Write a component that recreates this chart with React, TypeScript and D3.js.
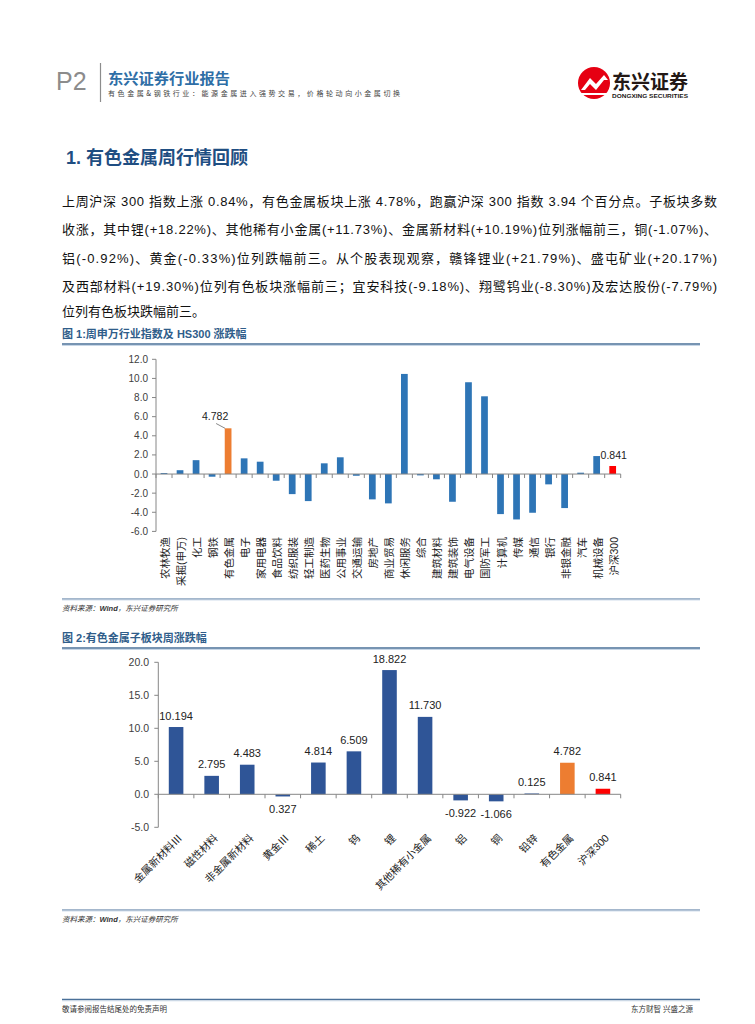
import React from "react";
import * as d3 from "d3";

// ---------- data ----------
const industries = [
  "农林牧渔", "采掘(申万)", "化工", "钢铁", "有色金属", "电子", "家用电器", "食品饮料",
  "纺织服装", "轻工制造", "医药生物", "公用事业", "交通运输", "房地产", "商业贸易",
  "休闲服务", "综合", "建筑材料", "建筑装饰", "电气设备", "国防军工", "计算机", "传媒",
  "通信", "银行", "非银金融", "汽车", "机械设备", "沪深300",
];
const industryChg = [
  0.1, 0.4, 1.45, -0.28, 4.782, 1.64, 1.29, -0.7, -2.1, -2.83, 1.12, 1.75, -0.18, -2.65,
  -3.07, 10.47, -0.14, -0.55, -2.9, 9.6, 8.13, -4.19, -4.75, -4.05, -1.08, -3.56, 0.14,
  1.88, 0.841,
];
const industryTicks = [12, 10, 8, 6, 4, 2, 0, -2, -4, -6];

const subSectors = [
  "金属新材料Ⅲ", "磁性材料", "非金属新材料", "黄金Ⅲ", "稀土", "钨", "锂",
  "其他稀有小金属", "铝", "铜", "铅锌", "有色金属", "沪深300",
];
const subChg = [10.194, 2.795, 4.483, -0.327, 4.814, 6.509, 18.822, 11.73, -0.922, -1.066, 0.125, 4.782, 0.841];
const subLabels = ["10.194", "2.795", "4.483", "0.327", "4.814", "6.509", "18.822", "11.730", "-0.922", "-1.066", "0.125", "4.782", "0.841"];
const subTicks = [20, 15, 10, 5, 0, -5];

const paragraph = [
  "上周沪深 300 指数上涨 0.84%，有色金属板块上涨 4.78%，跑赢沪深 300 指数 3.94 个百分点。子板块多数",
  "收涨，其中锂(+18.22%)、其他稀有小金属(+11.73%)、金属新材料(+10.19%)位列涨幅前三，铜(-1.07%)、",
  "铝(-0.92%)、黄金(-0.33%)位列跌幅前三。从个股表现观察，赣锋锂业(+21.79%)、盛屯矿业(+20.17%)",
  "及西部材料(+19.30%)位列有色板块涨幅前三；宜安科技(-9.18%)、翔鹭钨业(-8.30%)及宏达股份(-7.79%)",
  "位列有色板块跌幅前三。",
];

const CJK = "'Liberation Sans', 'Noto Sans CJK SC', sans-serif";
const AXIS = "#868686";
const TXT = "#404040";

function barColor1(name: string) {
  if (name === "有色金属") return "#ed7d31";
  if (name === "沪深300") return "#ff0000";
  return "#2e75b6";
}
function barColor2(name: string) {
  if (name === "有色金属") return "#ed7d31";
  if (name === "沪深300") return "#ff0000";
  return "#2f5597";
}

function Chart1() {
  const x0 = 156, x1 = 620.7;
  const y = d3.scaleLinear().domain([-6, 12]).range([531.4, 359.3]);
  const xc = d3.scaleBand<string>().domain(industries).range([x0, x1]).padding(0);
  const bw = xc.bandwidth() * 0.42;
  const zero = y(0);
  const iOrange = industries.indexOf("有色金属");
  const iRed = industries.indexOf("沪深300");
  const oxc = (xc(industries[iOrange]) as number) + xc.bandwidth() / 2;
  const rxc = (xc(industries[iRed]) as number) + xc.bandwidth() / 2;
  return (
    <g>
      {/* y axis */}
      <line x1={x0} x2={x0} y1={y(12)} y2={y(-6)} stroke={AXIS} strokeWidth={1} />
      {industryTicks.map((t) => (
        <g key={t}>
          <line x1={x0 - 4} x2={x0} y1={y(t)} y2={y(t)} stroke={AXIS} />
          <text x={148} y={y(t)} dy="0.35em" textAnchor="end" fontSize={10} fill={TXT} fontFamily={CJK}>
            {t.toFixed(1)}
          </text>
        </g>
      ))}
      {/* bars */}
      {industries.map((n, i) => {
        const v = industryChg[i];
        const cx = (xc(n) as number) + xc.bandwidth() / 2;
        return (
          <rect key={n} x={cx - bw / 2} width={bw} y={Math.min(y(v), zero)} height={Math.abs(y(v) - zero)} fill={barColor1(n)} />
        );
      })}
      {/* category axis */}
      <line x1={x0} x2={x1} y1={zero} y2={zero} stroke={AXIS} />
      {d3.range(industries.length + 1).map((i) => (
        <line key={i} x1={x0 + i * xc.step()} x2={x0 + i * xc.step()} y1={zero} y2={zero + 4} stroke={AXIS} />
      ))}
      {/* category labels */}
      {industries.map((n) => {
        const cx = (xc(n) as number) + xc.bandwidth() / 2;
        return (
          <text key={n} transform={`translate(${cx + 1},${537}) rotate(-90)`} textAnchor="end" dominantBaseline="central" fontSize={10.5} fill="#222" fontFamily={CJK}>
            {n}
          </text>
        );
      })}
      {/* data labels */}
      <text x={oxc - 13} y={420} textAnchor="middle" fontSize={10.5} fill="#222" fontFamily={CJK}>
        {industryChg[iOrange].toFixed(3)}
      </text>
      <line x1={oxc - 12} y1={423.5} x2={oxc - 3} y2={y(industryChg[iOrange])} stroke="#555" strokeWidth={0.7} />
      <text x={rxc + 1} y={459} textAnchor="middle" fontSize={10.5} fill="#222" fontFamily={CJK}>
        {industryChg[iRed].toFixed(3)}
      </text>
    </g>
  );
}

function Chart2() {
  const x0 = 158.3, x1 = 620.7;
  const y = d3.scaleLinear().domain([-5, 20]).range([827.3, 662.3]);
  const xc = d3.scaleBand<string>().domain(subSectors).range([x0, x1]).padding(0);
  const bw = xc.bandwidth() * 0.41;
  const zero = y(0);
  return (
    <g>
      <line x1={x0} x2={x0} y1={y(20)} y2={y(-5)} stroke={AXIS} />
      {subTicks.map((t) => (
        <g key={t}>
          <line x1={x0 - 4} x2={x0} y1={y(t)} y2={y(t)} stroke={AXIS} />
          <text x={149} y={y(t)} dy="0.35em" textAnchor="end" fontSize={10.5} fill={TXT} fontFamily={CJK}>
            {t.toFixed(1)}
          </text>
        </g>
      ))}
      {subSectors.map((n, i) => {
        const v = subChg[i];
        const cx = (xc(n) as number) + xc.bandwidth() / 2;
        return (
          <g key={n}>
            <rect x={cx - bw / 2} width={bw} y={Math.min(y(v), zero)} height={Math.abs(y(v) - zero)} fill={barColor2(n)} />
            <text x={cx} y={v >= 0 ? y(v) - 7.5 : y(v) + 17} textAnchor="middle" fontSize={11} fill="#222" fontFamily={CJK}>
              {subLabels[i]}
            </text>
          </g>
        );
      })}
      <line x1={x0} x2={x1} y1={zero} y2={zero} stroke={AXIS} />
      {d3.range(subSectors.length + 1).map((i) => (
        <line key={i} x1={x0 + i * xc.step()} x2={x0 + i * xc.step()} y1={zero} y2={zero + 4} stroke={AXIS} />
      ))}
      {subSectors.map((n) => {
        const cx = (xc(n) as number) + xc.bandwidth() / 2;
        return (
          <text key={n} transform={`translate(${cx + 4},${836}) rotate(-45)`} textAnchor="end" dominantBaseline="central" fontSize={10.5} fill="#222" fontFamily={CJK}>
            {n}
          </text>
        );
      })}
    </g>
  );
}

function Logo() {
  return (
    <g>
      <circle cx={594} cy={83} r={16} fill="#e60012" />
      <path d="M581,90 L590,78 L596,84 L604,75 L608,80 L604,80 L596,90 L590,84 L585,90 Z" fill="#fff" />
      <path d="M580,94 L608,94" stroke="#fff" strokeWidth={2} />
      <text x={612} y={89} fontSize={19} fontWeight="bold" fill="#231815" fontFamily="'Noto Sans CJK SC', sans-serif" textLength={76} lengthAdjust="spacingAndGlyphs">
        东兴证券
      </text>
      <text x={612} y={98} fontSize={5.5} fontWeight="bold" fill="#231815" fontFamily="'Liberation Sans', sans-serif" textLength={76} lengthAdjust="spacingAndGlyphs">
        DONGXING SECURITIES
      </text>
    </g>
  );
}

function SectionTitle({ y, text }: { y: number; text: string }) {
  return (
    <g>
      <text x={62} y={y} fontSize={11} fontWeight="bold" fill="#2f5d8a" fontFamily={CJK}>
        {text}
      </text>
      <line x1={62} x2={700} y1={y + 6} y2={y + 6} stroke="#4a7099" strokeWidth={1.6} />
      <line x1={62} x2={700} y1={y + 7.5} y2={y + 7.5} stroke="#c7d6e6" strokeWidth={1} />
    </g>
  );
}

function Source({ y }: { y: number }) {
  return (
    <g>
      <line x1={62} x2={700} y1={y - 12} y2={y - 12} stroke="#4a7099" strokeWidth={1.2} />
      <line x1={62} x2={700} y1={y - 11} y2={y - 11} stroke="#c7d6e6" strokeWidth={0.8} />
      <text x={62} y={y} fontSize={7.5} fontStyle="italic" fill="#333" fontFamily={CJK}>
        资料来源：<tspan fontWeight="bold">Wind</tspan>，东兴证券研究所
      </text>
    </g>
  );
}

export default function App() {
  const paraY = [206, 234, 263, 291, 316];
  return (
    <svg width={755} height={1024} style={{ position: "absolute", left: 0, top: 0, background: "#fff" }}>
      <rect width={755} height={1024} fill="#fff" />
      {/* header */}
      <text x={56} y={90} fontSize={25} fill="#8c8c8c" fontFamily="'Liberation Sans', sans-serif">P2</text>
      <line x1={100.5} x2={100.5} y1={63} y2={102} stroke="#8c8c8c" strokeWidth={1.2} />
      <text x={108} y={84} fontSize={14.5} fontWeight="bold" fill="#2e6ea6" fontFamily="'Noto Sans CJK SC', sans-serif" textLength={122} lengthAdjust="spacingAndGlyphs">
        东兴证券行业报告
      </text>
      <text x={108} y={96} fontSize={7} fill="#444" fontFamily="'Noto Sans CJK SC', sans-serif" textLength={292} lengthAdjust="spacing">
        有色金属&amp;钢铁行业：能源金属进入强势交易，价格轮动向小金属切换
      </text>
      <Logo />

      {/* section heading */}
      <text x={66} y={164} fontSize={18} fontWeight="bold" fill="#1f4e82" fontFamily="'Liberation Sans', 'Noto Sans CJK SC', sans-serif">
        1. 有色金属周行情回顾
      </text>

      {/* paragraph */}
      {paragraph.map((line, i) => (
        <text key={i} x={62} y={paraY[i]} fontSize={13} fill="#111" fontFamily={CJK}
          {...(i < paragraph.length - 1 ? { textLength: 655, lengthAdjust: "spacing" } : {})}>
          {line}
        </text>
      ))}

      <SectionTitle y={338} text="图 1:周申万行业指数及 HS300 涨跌幅" />
      <Chart1 />
      <Source y={611} />

      <SectionTitle y={642} text="图 2:有色金属子板块周涨跌幅" />
      <Chart2 />
      <Source y={922} />

      {/* footer */}
      <line x1={62} x2={700} y1={999.5} y2={999.5} stroke="#4a7099" strokeWidth={1.4} />
      <line x1={62} x2={700} y1={1000.8} y2={1000.8} stroke="#c7d6e6" strokeWidth={0.8} />
      <text x={62} y={1012} fontSize={7.5} fill="#333" fontFamily={CJK}>敬请参阅报告结尾处的免责声明</text>
      <text x={693} y={1012} fontSize={7.5} fill="#333" textAnchor="end" fontFamily={CJK}>东方财智 兴盛之源</text>
    </svg>
  );
}
